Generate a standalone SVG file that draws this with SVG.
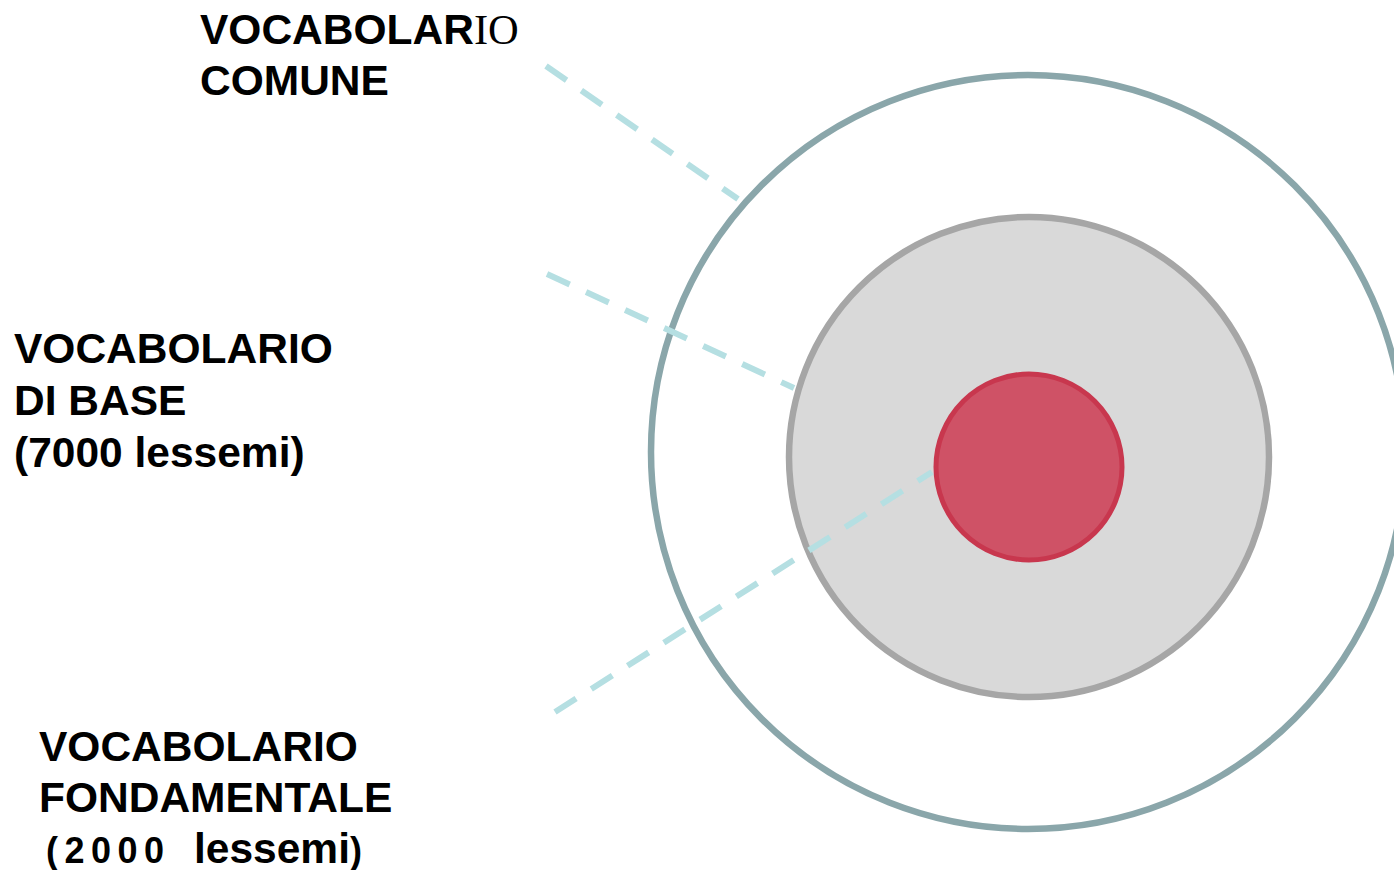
<svg xmlns="http://www.w3.org/2000/svg" width="1394" height="870" viewBox="0 0 1394 870">
<style>
.lbl{font-family:"Liberation Sans",Arial,sans-serif;font-weight:bold;font-size:42.5px;fill:#000}
.ser{font-family:"Liberation Serif","Times New Roman",serif;font-weight:normal}
.alt{font-family:"Liberation Sans",Arial,sans-serif;font-weight:bold;font-size:36px;letter-spacing:6.5px}
.dash{stroke:#b5dfe2;stroke-width:6;stroke-dasharray:25 18;fill:none}
</style>
<rect width="1394" height="870" fill="#fff"/>
<g id="outer"><circle cx="1028" cy="452" r="377" fill="#fff" stroke="#8aa6aa" stroke-width="6.5"/></g>
<g id="middle"><circle cx="1029" cy="457" r="240" fill="#d9d9d9" stroke="#a6a6a6" stroke-width="6.5"/></g>
<g id="connectors">
<line class="dash" x1="546" y1="66" x2="738" y2="199"/>
<line class="dash" x1="547" y1="274" x2="794" y2="388"/>
<line class="dash" x1="555" y1="712" x2="932" y2="472"/>
</g>
<g id="inner"><circle cx="1029" cy="467" r="93" fill="#cf5266" stroke="#c8374e" stroke-width="5"/></g>
<g id="label-comune">
<text class="lbl" x="200" y="44">VOCABOLAR<tspan class="ser">IO</tspan></text>
<text class="lbl" x="200" y="95">COMUNE</text>
</g>
<g id="label-base">
<text class="lbl" x="14" y="363">VOCABOLARIO</text>
<text class="lbl" x="14" y="415">DI BASE</text>
<text class="lbl" x="14" y="467">(7000 lessemi)</text>
</g>
<g id="label-fondamentale">
<text class="lbl" x="39" y="761">VOCABOLARIO</text>
<text class="lbl" x="39" y="812">FONDAMENTALE</text>
<text class="lbl" x="46" y="863"><tspan class="alt">(2000 </tspan><tspan x="194">lessemi</tspan><tspan class="alt">)</tspan></text>
</g>
</svg>
